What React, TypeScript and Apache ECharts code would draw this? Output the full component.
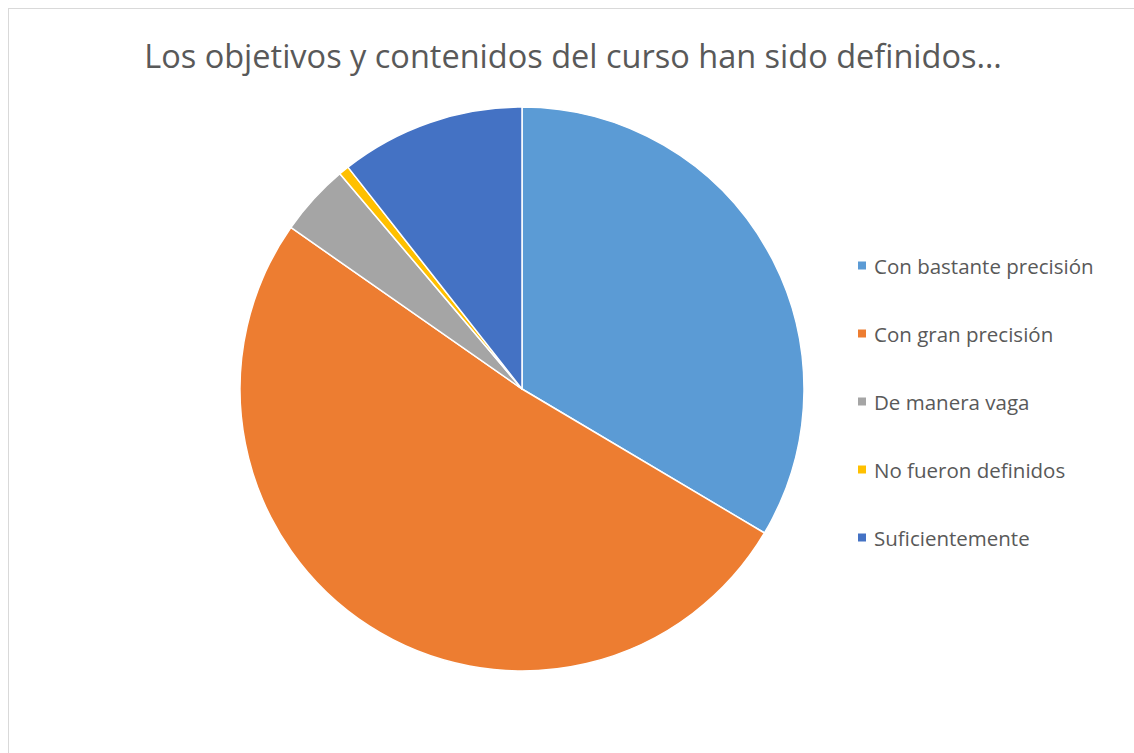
import React, { useEffect, useRef } from "react";
import * as echarts from "echarts";

const categories = [
  "Con bastante precisión",
  "Con gran precisión",
  "De manera vaga",
  "No fueron definidos",
  "Suficientemente",
];
const values = [57, 87, 7, 1, 18];
const colors = ["#5B9BD5", "#ED7D31", "#A5A5A5", "#FFC000", "#4472C4"];
const titleText = "Los objetivos y contenidos del curso han sido definidos…";

export default function App() {
  const ref = useRef<HTMLDivElement>(null);
  useEffect(() => {
    document.documentElement.style.overflow = "hidden";
    document.body.style.overflow = "hidden";
    if (!ref.current) return;
    const chart = echarts.init(ref.current, undefined, { renderer: "svg" });
    chart.setOption({
      animation: false,
      backgroundColor: "#ffffff",
      color: colors,
      title: {
        text: titleText,
        left: 559,
        top: 25,
        textAlign: "center",
        textStyle: {
          fontFamily: "Open Sans",
          fontSize: 32.5,
          fontWeight: "normal",
          color: "#595959",
        },
      },
      legend: {
        orient: "vertical",
        left: 842,
        top: 241,
        itemWidth: 10,
        itemHeight: 10,
        itemGap: 47,
        icon: "rect",
        textStyle: {
          fontFamily: "Open Sans",
          fontSize: 20.5,
          lineHeight: 20,
          color: "#595959",
          padding: [0, 0, 0, 2],
        },
        data: categories,
      },
      series: [
        {
          type: "pie",
          center: [513, 380],
          radius: 282,
          startAngle: 90,
          clockwise: true,
          label: { show: false },
          labelLine: { show: false },
          itemStyle: { borderColor: "#ffffff", borderWidth: 1.5 },
          emphasis: { disabled: true },
          data: categories.map((name, i) => ({ name, value: values[i] })),
        },
      ],
    });
    return () => chart.dispose();
  }, []);
  return (
    <div
      style={{
        position: "fixed",
        left: 8,
        top: 8,
        width: 1126,
        height: 745,
        borderLeft: "1px solid #d9d9d9",
        borderTop: "1px solid #d9d9d9",
        overflow: "hidden",
        background: "#ffffff",
      }}
    >
      <div ref={ref} style={{ width: 1125, height: 744 }} />
    </div>
  );
}
